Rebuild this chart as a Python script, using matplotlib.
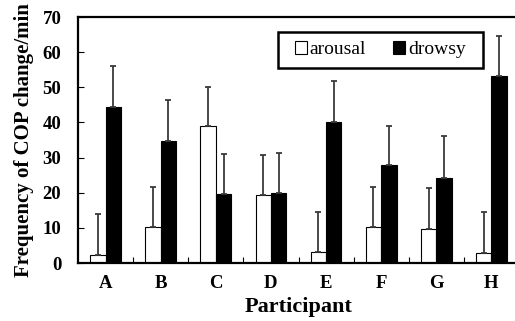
import matplotlib
matplotlib.use("Agg")
import matplotlib.pyplot as plt
from matplotlib.patches import Rectangle
import numpy as np

participants = ["A", "B", "C", "D", "E", "F", "G", "H"]
arousal = [2.2, 10.3, 38.9, 19.4, 3.2, 10.3, 9.8, 2.8]
arousal_err = [11.8, 11.4, 11.3, 11.4, 11.4, 11.4, 11.5, 11.6]
drowsy = [44.5, 34.8, 19.6, 19.9, 40.2, 28.0, 24.2, 53.2]
drowsy_err = [11.5, 11.7, 11.4, 11.5, 11.7, 11.0, 11.8, 11.4]

plt.rcParams['font.family'] = ['Liberation Serif', 'DejaVu Serif']

fig = plt.figure(figsize=(5.15, 3.21), dpi=100)
ax = fig.add_axes([78/515, 58/321, 441/515, 246/321])

x = np.arange(len(participants))
w = 0.28
err_kw = dict(ecolor='#3a3a3a', elinewidth=1.3, capsize=2.5, capthick=1.3)
ax.bar(x - w/2, arousal, w, color='white', edgecolor='black', linewidth=0.8,
       yerr=[np.zeros(len(arousal)), arousal_err], error_kw=err_kw, label='arousal')
ax.bar(x + w/2, drowsy, w, color='black', edgecolor='black', linewidth=0.8,
       yerr=[np.zeros(len(drowsy)), drowsy_err], error_kw=err_kw, label='drowsy')

ax.set_xlim(-0.5, 7.5)
ax.set_ylim(0, 70)
ax.set_yticks(range(0, 71, 10))
ax.set_xticks(x)
ax.set_xticklabels(participants, fontsize=13.5, fontweight='bold')
ax.set_xticks(np.arange(0.5, 7.5, 1), minor=True)
ax.tick_params(axis='x', which='major', length=0, pad=9)
ax.tick_params(axis='x', which='minor', direction='in', length=4, width=0.8)
ax.tick_params(axis='y', direction='in', length=4, width=0.8, pad=12)
for lab in ax.get_yticklabels():
    lab.set_fontsize(13.5)
    lab.set_fontweight('bold')

for s in ['left', 'bottom', 'top']:
    ax.spines[s].set_linewidth(1.6)
ax.spines['right'].set_visible(False)

ax.set_xlabel('Participant', fontsize=16, fontweight='bold', labelpad=3)
ax.set_ylabel('Frequency of COP change/min', fontsize=15, fontweight='bold', labelpad=6)

# legend box
bx0, bx1, by0, by1 = 0.4535, 0.918, 0.793, 0.939
ax.add_patch(Rectangle((bx0, by0), bx1 - bx0, by1 - by0, transform=ax.transAxes,
                       facecolor='white', edgecolor='black', linewidth=1.8, zorder=5))
leg = ax.legend(loc='center', bbox_to_anchor=((bx0 + bx1) / 2, (by0 + by1) / 2), ncol=2,
                fontsize=14, frameon=False, handlelength=0.6,
                handleheight=0.6, handletextpad=0.15, columnspacing=1.4,
                borderpad=0, borderaxespad=0)
leg.set_zorder(6)

fig.savefig('out.png', dpi=100)
